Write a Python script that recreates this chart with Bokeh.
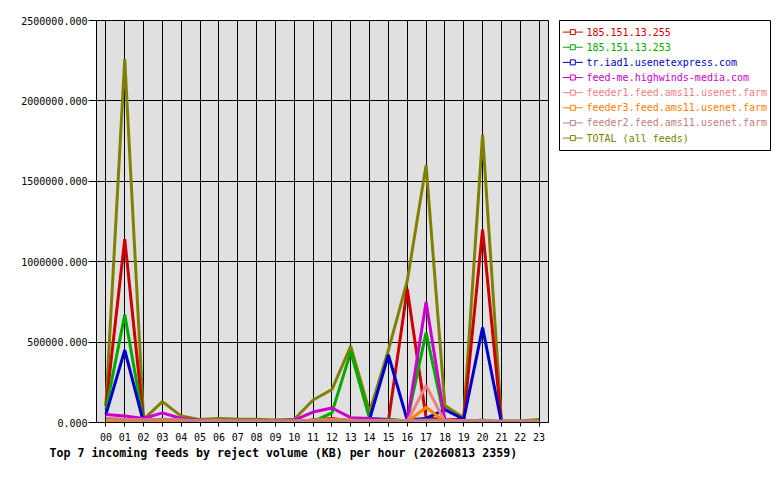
import bokeh.plotting
from bokeh.core.properties import value
from bokeh.embed import file_html
from bokeh.layouts import row
from bokeh.models import ColumnDataSource, FixedTicker, PrintfTickFormatter, Range1d, Title
from bokeh.resources import INLINE

hours = ['%02d' % h for h in range(24)]
y_ticks = [0, 500000, 1000000, 1500000, 2000000, 2500000]

feed_names = ['185.151.13.255', '185.151.13.253', 'tr.iad1.usenetexpress.com',
              'feed-me.highwinds-media.com', 'feeder1.feed.ams11.usenet.farm',
              'feeder3.feed.ams11.usenet.farm', 'feeder2.feed.ams11.usenet.farm',
              'TOTAL (all feeds)']
feed_colors = ['#CC0000', '#00AA00', '#0000CC', '#CC00CC', '#F08080', '#FF8000', '#C08080', '#808000']

# reject volume (KB) per hour
red_255 = [100000, 1140000, 10000, 5000, 5000, 3000, 3000, 3000, 3000, 3000, 5000, 15000,
           25000, 10000, 5000, 10000, 830000, 30000, 15000, 20000, 1200000, 0, 0, 0]
green_253 = [80000, 670000, 5000, 3000, 2000, 2000, 2000, 2000, 2000, 2000, 3000, 5000,
             60000, 440000, 25000, 20000, 10000, 560000, 10000, 5000, 15000, 0, 0, 0]
usenetexpress = [50000, 450000, 0, 5000, 3000, 2000, 2000, 2000, 2000, 2000, 3000, 5000,
                 20000, 10000, 20000, 420000, 15000, 25000, 80000, 20000, 590000, 0, 0, 0]
highwinds = [50000, 40000, 25000, 60000, 25000, 12000, 12000, 10000, 10000, 8000, 15000, 65000,
             90000, 30000, 25000, 15000, 10000, 750000, 10000, 5000, 3000, 2000, 2000, 2000]
feeder1 = [25000, 20000, 15000, 20000, 15000, 10000, 12000, 10000, 10000, 8000, 10000, 12000,
           15000, 12000, 10000, 8000, 5000, 230000, 5000, 5000, 5000, 5000, 5000, 5000]
feeder3 = [5000, 5000, 3000, 12000, 5000, 3000, 3000, 3000, 3000, 3000, 5000, 15000,
           20000, 15000, 10000, 5000, 3000, 95000, 3000, 2000, 2000, 2000, 2000, 2000]
feeder2 = [25000, 18000, 15000, 20000, 15000, 10000, 10000, 10000, 10000, 10000, 10000, 12000,
           12000, 12000, 12000, 12000, 12000, 15000, 12000, 12000, 12000, 10000, 10000, 10000]
total = [110000, 2260000, 20000, 130000, 40000, 18000, 25000, 20000, 20000, 15000, 20000, 140000,
         205000, 475000, 65000, 450000, 880000, 1600000, 105000, 30000, 1790000, 10000, 10000, 18000]

series = [red_255, green_253, usenetexpress, highwinds, feeder1, feeder3, feeder2, total]
mono = 'DejaVu Sans Mono'

p = bokeh.plotting.figure(frame_width=452, frame_height=402,
                          x_range=Range1d(-0.5, 23.5), y_range=Range1d(0, 2500000),
                          min_border_left=96, min_border_right=3, min_border_top=20,
                          min_border_bottom=40, title=None,
                          output_backend='svg', toolbar_location=None)
p.background_fill_color = '#E0E0E0'
p.outline_line_color = 'black'

x = list(range(24))
# TOTAL underneath, feeds on top in legend order
p.line(x, total, color=feed_colors[-1], line_width=3)
for vals, col in zip(series[:-1], feed_colors[:-1]):
    p.line(x, vals, color=col, line_width=3)

p.xaxis.ticker = FixedTicker(ticks=x)
p.xaxis.major_label_overrides = {i: h for i, h in enumerate(hours)}
p.xaxis.major_tick_out = 4
p.xaxis.major_label_standoff = 6
p.yaxis.ticker = FixedTicker(ticks=y_ticks)
p.yaxis.formatter = PrintfTickFormatter(format='%.3f')
p.yaxis.major_tick_out = 8
p.yaxis.major_label_standoff = 1
for ax in [p.xaxis, p.yaxis]:
    ax.major_tick_in = 0
    ax.minor_tick_line_color = None
    ax.axis_line_color = 'black'
    ax.major_tick_line_color = 'black'
    ax.major_label_text_font = mono
    ax.major_label_text_font_size = '10px'
    ax.major_label_text_color = 'black'

p.grid.grid_line_color = 'black'
p.grid.grid_line_alpha = 1.0
p.grid.grid_line_width = 1

p.add_layout(Title(text='Top 7 incoming feeds by reject volume (KB) per hour (20260813 2359)',
                   align='left', offset=-47, standoff=1, text_font=mono,
                   text_font_size='11.6px', text_font_style='bold', text_color='black'), 'below')

# legend box, drawn in its own small figure so each label keeps its colour
leg = bokeh.plotting.figure(frame_width=211, frame_height=130,
                            x_range=Range1d(0, 211), y_range=Range1d(130, 0),
                            x_axis_type=None, y_axis_type=None, title=None,
                            min_border_left=1, min_border_right=2, min_border_top=20,
                            min_border_bottom=2, output_backend='svg', toolbar_location=None)
leg.grid.visible = False
leg.outline_line_color = 'black'
leg.background_fill_color = 'white'

row_y = [11.6 + 15.14 * i for i in range(len(feed_names))]
src = ColumnDataSource(dict(y=row_y, name=feed_names, color=feed_colors))
leg.segment(x0=3.3, y0='y', x1=23.3, y1='y', color='color', line_width=1, source=src)
leg.scatter(x=13.3, y='y', marker='square', size=5, line_color='color', fill_color='white', source=src)
leg.text(x=27, y='y', text='name', text_color='color', text_baseline='middle',
         text_font=value(mono), text_font_size='10px', source=src)

layout = row(p, leg, spacing=7)
open('out.html', 'w').write(file_html(layout, INLINE))
